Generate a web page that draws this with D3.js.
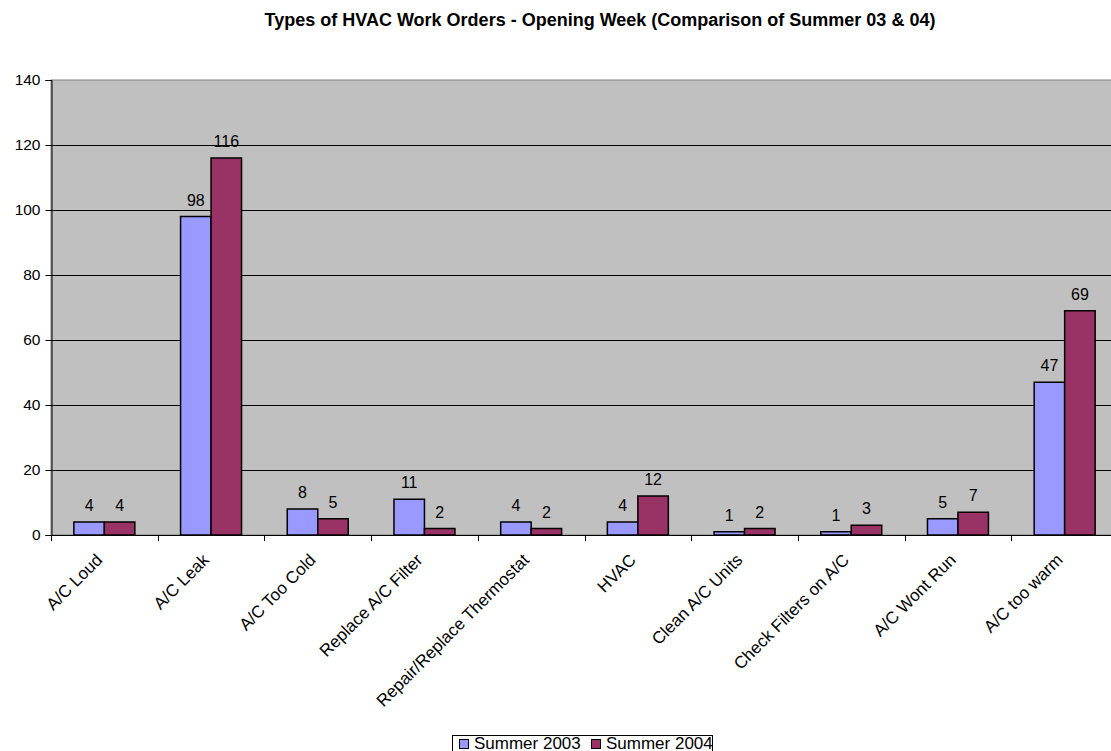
<!DOCTYPE html>
<html>
<head>
<meta charset="utf-8">
<script src="https://cdn.jsdelivr.net/npm/d3@7"></script>
<style>
  html, body { margin: 0; padding: 0; background: #fff; overflow: hidden; }
  text { font-family: "Liberation Sans", Arial, sans-serif; fill: #000; }
</style>
</head>
<body>
<svg id="chart" width="1111" height="751"></svg>
<script>
// Work order categories and counts per summer
const categories = ["A/C Loud", "A/C Leak", "A/C Too Cold", "Replace A/C Filter",
  "Repair/Replace Thermostat", "HVAC", "Clean A/C Units", "Check Filters on A/C",
  "A/C Wont Run", "A/C too warm"];
const summer2003 = [4, 98, 8, 11, 4, 4, 1, 1, 5, 47];
const summer2004 = [4, 116, 5, 2, 2, 12, 2, 3, 7, 69];
const seriesNames = ["Summer 2003", "Summer 2004"];
const seriesColors = ["#9999FF", "#993366"];
const yTicks = [0, 20, 40, 60, 80, 100, 120, 140];

const svg = d3.select("#chart");
const plot = { left: 51, right: 1118, top: 80, bottom: 535 };

const x = d3.scaleBand().domain(categories).range([plot.left, plot.right]);
const bandW = x.bandwidth();
const barW = bandW / 3.5;
const xs = d3.scaleBand().domain(seriesNames).range([0, 2 * barW]);
const y = d3.scaleLinear().domain([0, 140]).range([plot.bottom, plot.top]);

// Title
svg.append("text")
  .attr("x", 600).attr("y", 26)
  .attr("text-anchor", "middle")
  .style("font-size", "18px").style("font-weight", "bold")
  .text("Types of HVAC Work Orders - Opening Week (Comparison of Summer 03 & 04)");

// Plot background
svg.append("rect")
  .attr("x", plot.left).attr("y", plot.top)
  .attr("width", plot.right - plot.left).attr("height", plot.bottom - plot.top)
  .attr("fill", "#C0C0C0").attr("stroke", "#808080").attr("stroke-width", 1);

// Gridlines
svg.append("g").selectAll("line")
  .data(yTicks.filter(d => d > 0 && d < 140))
  .join("line")
  .attr("x1", plot.left).attr("x2", plot.right)
  .attr("y1", d => Math.round(y(d)) + 0.5).attr("y2", d => Math.round(y(d)) + 0.5)
  .attr("stroke", "#000").attr("stroke-width", 1);

// Bars with value labels
const series = [summer2003, summer2004];
series.forEach((vals, si) => {
  const g = svg.append("g");
  const rows = categories.map((c, i) => ({ c, v: vals[i] }));
  const bx = d => x(d.c) + (bandW - 2 * barW) / 2 + xs(seriesNames[si]);
  g.selectAll("rect")
    .data(rows)
    .join("rect")
    .attr("x", bx)
    .attr("y", d => y(d.v))
    .attr("width", barW)
    .attr("height", d => y(0) - y(d.v))
    .attr("fill", seriesColors[si])
    .attr("stroke", "#000").attr("stroke-width", 1.5);
  g.selectAll("text")
    .data(rows)
    .join("text")
    .attr("x", d => bx(d) + barW / 2)
    .attr("y", d => y(d.v) - 11)
    .attr("text-anchor", "middle")
    .style("font-size", "16px")
    .text(d => d.v);
});

// Y axis
const yAxis = d3.axisLeft(y).tickValues(yTicks).tickSize(6).tickPadding(5);
const yg = svg.append("g")
  .attr("transform", `translate(${plot.left + 0.5},0)`)
  .call(yAxis);
yg.select(".domain").attr("stroke", "#000");
yg.selectAll(".tick line").attr("stroke", "#000");
yg.selectAll(".tick text")
  .style("font-size", "15.5px")
  .style("font-family", "'Liberation Sans', Arial, sans-serif")
  .attr("fill", "#000");

// X axis baseline and category boundary ticks
svg.append("line")
  .attr("x1", plot.left).attr("x2", plot.right)
  .attr("y1", plot.bottom + 0.5).attr("y2", plot.bottom + 0.5)
  .attr("stroke", "#000");
svg.append("g").selectAll("line")
  .data(categories)
  .join("line")
  .attr("x1", d => Math.round(x(d)) + 0.5).attr("x2", d => Math.round(x(d)) + 0.5)
  .attr("y1", plot.bottom).attr("y2", plot.bottom + 6)
  .attr("stroke", "#000");

// Rotated category labels
svg.append("g").selectAll("text")
  .data(categories)
  .join("text")
  .attr("transform", d => `translate(${x(d) + bandW / 2 - 1},${plot.bottom + 26}) rotate(-45)`)
  .attr("text-anchor", "end")
  .style("font-size", "17px")
  .text(d => d);

// Legend
const legend = svg.append("g");
legend.append("rect")
  .attr("x", 452.5).attr("y", 735.5)
  .attr("width", 260).attr("height", 24)
  .attr("fill", "#fff").attr("stroke", "#000");
const legendX = [459, 591];
seriesNames.forEach((name, i) => {
  legend.append("rect")
    .attr("x", legendX[i] + 0.5).attr("y", 739.5)
    .attr("width", 9).attr("height", 9)
    .attr("fill", seriesColors[i]).attr("stroke", "#000");
  legend.append("text")
    .attr("x", legendX[i] + 15).attr("y", 749)
    .style("font-size", "17px")
    .text(name);
});
</script>
</body>
</html>
